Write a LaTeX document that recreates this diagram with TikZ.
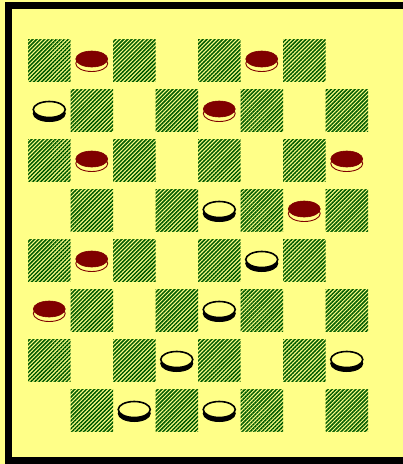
\documentclass[tikz,border=0pt]{standalone}
\usetikzlibrary{patterns.meta}

\definecolor{boardyellow}{RGB}{255,255,136}
\definecolor{hatchgreen}{RGB}{0,90,0}
\definecolor{manred}{RGB}{128,0,0}

\begin{document}
\begin{tikzpicture}[
    x=1pt, y=-1pt,
    darkcell/.style={pattern={Lines[angle=45, distance=2.8pt, line width=1.5pt]}, pattern color=hatchgreen},
    redbase/.style={fill=boardyellow, draw=manred, line width=0.9pt},
    redtop/.style={fill=manred, draw=manred, line width=0.6pt},
    whitebase/.style={fill=black, draw=black, line width=1pt},
    whitetop/.style={fill=boardyellow, draw=black, line width=1.6pt}
]

\useasboundingbox (0,0) rectangle (403,464);
\fill[boardyellow] (0,0) rectangle (403,464);
\draw[line width=7pt] (8.5,5.5) rectangle (410,460.5);

% board
\foreach \r in {0,...,7}
  \foreach \c in {0,...,7} {
    \pgfmathtruncatemacro{\odd}{mod(\r+\c,2)}
    \ifnum\odd=0
      \fill[darkcell] ({28+42.5*\c},{39+50*\r}) rectangle ++(42.5,42);
    \fi
  }

% red men
\foreach \c/\r in {1/0, 5/0, 4/1, 1/2, 7/2, 6/3, 1/4, 0/5} {
  \draw[redbase] ({49.25+42.5*\c},{63.5+50*\r}) ellipse [x radius=16pt, y radius=8pt];
  \draw[redtop] ({49.25+42.5*\c},{59+50*\r}) ellipse [x radius=16pt, y radius=8pt];
}

% white men
\foreach \c/\r in {0/1, 4/3, 5/4, 4/5, 3/6, 7/6, 2/7, 4/7} {
  \draw[whitebase] ({49.25+42.5*\c},{63.5+50*\r}) ellipse [x radius=16pt, y radius=8pt];
  \draw[whitetop] ({49.25+42.5*\c},{59.5+50*\r}) ellipse [x radius=16pt, y radius=8pt];
}

\end{tikzpicture}
\end{document}
